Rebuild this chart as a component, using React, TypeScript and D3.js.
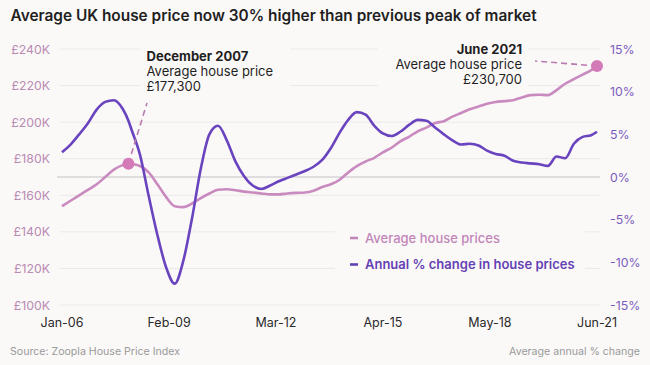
import * as d3 from "d3";
import { useEffect, useRef } from "react";

// months since Jan 2006, sampled quarterly, last point is June 2021
const months = [
  0, 3, 6, 9, 12, 15, 18, 21, 23, 24, 27, 30, 33, 36, 39, 42, 45, 48, 51, 54, 57, 60, 63, 66, 69, 72,
  75, 78, 81, 84, 87, 90, 93, 96, 99, 102, 105, 108, 111, 114, 117, 120, 123, 126, 129, 132, 135, 138,
  141, 144, 147, 150, 153, 156, 159, 162, 165, 168, 171, 174, 177, 180, 183, 185
];

// average house price, £K
const avgPrice = [
  154, 157, 160, 163, 166, 170, 174, 176.5, 177.3, 177.2, 176, 172.5, 166, 159, 154, 153.5, 155.5, 158.5,
  161, 163, 163.3, 162.8, 162, 161.5, 161, 160.5, 160.5, 161, 161.3, 161.5, 162.5, 164.5, 166, 168.5,
  172.5, 176, 178.5, 180.5, 183.5, 186, 189.5, 192, 195, 197, 199.5, 200.5, 203, 205, 207, 208.5, 210,
  211, 211.5, 212, 213.5, 214.8, 215, 214.8, 217.5, 221, 223.5, 226, 228.5, 230.7
];

// annual % change
const annualChange = [
  2.9, 3.8, 5.0, 6.3, 7.9, 8.8, 9.0, 8.0, 6.6, 5.6, 2.6, -2.2, -6.8, -10.6, -12.5, -9.8, -4.8, 1.0, 5.0,
  6.0, 4.3, 1.8, 0.1, -1.0, -1.4, -1.0, -0.5, -0.1, 0.3, 0.7, 1.2, 2.0, 3.4, 5.2, 6.7, 7.6, 7.3, 6.0,
  5.1, 4.8, 5.3, 6.1, 6.7, 6.6, 5.8, 5.0, 4.3, 3.8, 3.9, 3.7, 3.1, 2.7, 2.5, 1.9, 1.7, 1.6, 1.5, 1.3,
  2.4, 2.2, 3.9, 4.7, 4.9, 5.3
];

const xTicks = [0, 37, 74, 111, 148, 185];
const priceTicks = [100, 120, 140, 160, 180, 200, 220, 240];
const pctTicks = [-15, -10, -5, 0, 5, 10, 15];

const PINK = "#c98bbf";
const PURPLE = "#6a44bf";
const DOT = "#d57ab9";
const BG = "#fbf9f8";
const FONT = "Inter, 'Noto Sans', sans-serif";

export default function App() {
  const ref = useRef<SVGSVGElement | null>(null);

  useEffect(() => {
    if (!ref.current) return;
    const width = 650;
    const height = 365;
    const svg = d3.select(ref.current);
    svg.selectAll("*").remove();
    svg.attr("viewBox", `0 0 ${width} ${height}`).attr("font-family", FONT);

    const toDate = (m: number) => new Date(Date.UTC(2006, m, 1));
    const x = d3.scaleUtc().domain([toDate(0), toDate(185)]).range([62, 597]);
    const yL = d3.scaleLinear().domain([100, 240]).range([305, 49]);
    const yR = d3.scaleLinear().domain([-15, 15]).range([305, 49]);
    const fmt = d3.utcFormat("%b-%y");

    svg.append("rect").attr("width", width).attr("height", height).attr("fill", BG);

    svg
      .append("text")
      .attr("x", 10.5)
      .attr("y", 21)
      .attr("font-size", 15.4)
      .attr("font-weight", 600)
      .attr("fill", "#1f1f1f")
      .text("Average UK house price now 30% higher than previous peak of market");

    // grid
    svg
      .append("g")
      .selectAll("line")
      .data(priceTicks)
      .join("line")
      .attr("x1", 60)
      .attr("x2", 600)
      .attr("y1", (d) => yL(d))
      .attr("y2", (d) => yL(d))
      .attr("stroke", "#ece8e7")
      .attr("stroke-width", 1);

    svg
      .append("line")
      .attr("x1", 57)
      .attr("x2", 600)
      .attr("y1", yR(0))
      .attr("y2", yR(0))
      .attr("stroke", "#c4c2c2")
      .attr("stroke-width", 1.2);

    // left axis labels
    svg
      .append("g")
      .selectAll("text")
      .data(priceTicks)
      .join("text")
      .attr("x", 50)
      .attr("y", (d) => yL(d) + 4.5)
      .attr("text-anchor", "end")
      .attr("font-size", 12.3)
      .attr("fill", "#b98ab3")
      .text((d) => `£${d}K`);

    // right axis labels
    svg
      .append("g")
      .selectAll("text")
      .data(pctTicks)
      .join("text")
      .attr("x", 610)
      .attr("y", (d) => yR(d) + 4.5)
      .attr("font-size", 12.3)
      .attr("fill", "#7a5cbd")
      .text((d) => `${d}%`);

    // x labels
    svg
      .append("g")
      .selectAll("text")
      .data(xTicks)
      .join("text")
      .attr("x", (d) => x(toDate(d)))
      .attr("y", 327)
      .attr("text-anchor", "middle")
      .attr("font-size", 12.5)
      .attr("fill", "#2a2a2a")
      .text((d) => fmt(toDate(d)));

    // masks behind annotations and legend
    svg.append("rect").attr("x", 140).attr("y", 40).attr("width", 150).attr("height", 60).attr("fill", BG);
    svg.append("rect").attr("x", 378).attr("y", 40).attr("width", 150).attr("height", 55).attr("fill", BG);
    svg.append("rect").attr("x", 335).attr("y", 222).attr("width", 250).attr("height", 58).attr("fill", BG);

    const idx = d3.range(months.length);
    const priceLine = d3
      .line<number>()
      .x((i) => x(toDate(months[i])))
      .y((i) => yL(avgPrice[i]))
      .curve(d3.curveMonotoneX);
    const changeLine = d3
      .line<number>()
      .x((i) => x(toDate(months[i])))
      .y((i) => yR(annualChange[i]))
      .curve(d3.curveMonotoneX);

    svg
      .append("path")
      .attr("d", priceLine(idx))
      .attr("fill", "none")
      .attr("stroke", PINK)
      .attr("stroke-width", 2.6)
      .attr("stroke-linejoin", "round");
    svg
      .append("path")
      .attr("d", changeLine(idx))
      .attr("fill", "none")
      .attr("stroke", PURPLE)
      .attr("stroke-width", 2.6)
      .attr("stroke-linejoin", "round");

    // annotation dots and leaders
    const p1 = [x(toDate(23)), yL(177.3)];
    const p2 = [x(toDate(185)), yL(230.7)];
    svg
      .append("line")
      .attr("x1", p1[0])
      .attr("y1", p1[1])
      .attr("x2", 147)
      .attr("y2", 103)
      .attr("stroke", "#b97aaf")
      .attr("stroke-width", 1.6)
      .attr("stroke-dasharray", "6,4");
    svg
      .append("line")
      .attr("x1", p2[0])
      .attr("y1", p2[1])
      .attr("x2", 535)
      .attr("y2", 61)
      .attr("stroke", "#b97aaf")
      .attr("stroke-width", 1.6)
      .attr("stroke-dasharray", "6,4");
    [p1, p2].forEach((p) => {
      svg.append("circle").attr("cx", p[0]).attr("cy", p[1]).attr("r", 6).attr("fill", DOT);
    });

    const note = (tx: number, ty: number, anchor: string, lines: string[]) => {
      lines.forEach((l, i) => {
        svg
          .append("text")
          .attr("x", tx)
          .attr("y", ty + i * 15)
          .attr("text-anchor", anchor)
          .attr("font-size", 13)
          .attr("font-weight", i === 0 ? 700 : 400)
          .attr("fill", "#1f1f1f")
          .text(l);
      });
    };
    note(146.5, 61, "start", ["December 2007", "Average house price", "£177,300"]);
    note(522, 54, "end", ["June 2021", "Average house price", "£230,700"]);

    // legend
    const legend = [
      { label: "Average house prices", color: "#c286b9", weight: 500 },
      { label: "Annual % change in house prices", color: "#6441b3", weight: 600 }
    ];
    legend.forEach((d, i) => {
      const ly = 238 + i * 26.5;
      svg
        .append("line")
        .attr("x1", 350)
        .attr("x2", 358)
        .attr("y1", ly)
        .attr("y2", ly)
        .attr("stroke", d.color)
        .attr("stroke-width", 2.6);
      svg
        .append("text")
        .attr("x", 365)
        .attr("y", ly + 4.5)
        .attr("font-size", 13)
        .attr("font-weight", d.weight)
        .attr("fill", d.color)
        .text(d.label);
    });

    // footer
    svg
      .append("text")
      .attr("x", 10)
      .attr("y", 355)
      .attr("font-size", 10.6)
      .attr("fill", "#9a9a9a")
      .text("Source: Zoopla House Price Index");
    svg
      .append("text")
      .attr("x", 640)
      .attr("y", 355)
      .attr("text-anchor", "end")
      .attr("font-size", 10.6)
      .attr("fill", "#9a9a9a")
      .text("Average annual % change");
  }, []);

  return (
    <svg
      ref={ref}
      width={650}
      height={365}
      style={{ position: "fixed", left: 0, top: 0, display: "block" }}
      aria-label="UK house price chart"
    />
  );
}
